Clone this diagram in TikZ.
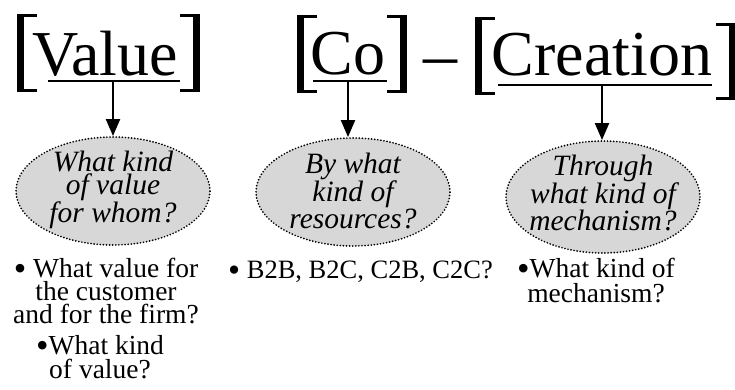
\documentclass[tikz,border=0pt]{standalone}
\usepackage{fontspec}
\setmainfont{Liberation Serif}
\usetikzlibrary{shapes.geometric,arrows.meta}
\newcommand{\bul}{\raisebox{-3.5pt}{\scalebox{1.3}{•}}}
\begin{document}
\begin{tikzpicture}[x=1pt,y=-1pt,
  title/.style={font=\fontsize{64}{64}\selectfont, inner sep=0pt, anchor=base},
  uline/.style={line width=2.4pt},
  arr/.style={line width=2.2pt, -{Triangle[width=14pt,length=17pt]}},
  bubble/.style={ellipse, draw, fill=bubblegray, line width=1.9pt,
    dash pattern=on 0pt off 3.1pt, line cap=round,
    minimum width=194pt, minimum height=108pt, inner sep=0pt},
  bubbletext/.style={inner sep=0pt, align=center,
    font=\fontsize{29.5}{22.5}\selectfont\itshape},
  bullettext/.style={inner sep=0pt, align=center, anchor=base}
]
\definecolor{bubblegray}{RGB}{215,215,215}
\useasboundingbox[fill=white] (0,0) rectangle (735,389);

% brackets
\newcommand{\lbrk}[3]{\fill (#1,#2) rectangle (#1+7,#3);
  \fill (#1,#2) rectangle (#1+20,#2+3); \fill (#1,#3-3) rectangle (#1+20,#3);}
\newcommand{\rbrk}[3]{\fill (#1-7,#2) rectangle (#1,#3);
  \fill (#1-20,#2) rectangle (#1,#2+3); \fill (#1-20,#3-3) rectangle (#1,#3);}
\lbrk{17}{14}{92}
\rbrk{200}{14}{92}
\lbrk{297}{15}{93}
\rbrk{407}{15}{93}
\lbrk{475}{17}{95}
\rbrk{736}{23}{100}

% titles
\node[title] (val) at (105,75) {Value};
\node[title] (co) at (348,74) {Co};
\node[title] (cre) at (602,75) {Creation};
\node[font=\fontsize{68}{68}\selectfont, inner sep=0pt, anchor=base] (dash) at (440,77) {–};

% underlines
\coordinate (v1) at (48,81); \coordinate (v2) at (180,81); \coordinate (va) at (113,81);
\coordinate (c1) at (313,81); \coordinate (c2) at (387,81); \coordinate (ca) at (348,81);
\coordinate (r1) at (498,85); \coordinate (r2) at (712,85); \coordinate (ra) at (602,85);
\draw[uline] (v1) -- (v2);
\draw[uline] (c1) -- (c2);
\draw[uline] (r1) -- (r2);

% bubbles
\node[bubble, label={[bubbletext, yshift=1pt]center:{What kind\\of value\\for whom?}}] (e1) at (113,191) {};
\node[bubble, label={[bubbletext, yshift=1pt]center:{By what\\kind of\\resources?}}] (e2) at (353,192) {};
\node[bubble, minimum height=112pt, label={[bubbletext, yshift=4pt]center:{Through\\what kind of\\mechanism?}}] (e3) at (603,197) {};

\draw[arr] (va) -- (va |- e1.north);
\draw[arr] (ca) -- (ca |- e2.north);
\draw[arr] (ra) -- (ra |- e3.north);

% bullet texts (base anchor = last line's baseline)
\node[bullettext, font=\fontsize{27.5}{23}\selectfont] (b1) at (106,323) {\bul{} What value for\\the customer\\and for the firm?};
\node[bullettext, font=\fontsize{27.5}{21}\selectfont] (b4) at (100,378) {\bul{}What kind\\of value?};
\node[bullettext, font=\fontsize{26.5}{24}\selectfont, anchor=base west] (b2) at (228,278) {\bul{} B2B, B2C, C2B, C2C?};
\node[bullettext, font=\fontsize{27.5}{25}\selectfont] (b3) at (596,302) {\bul{}What kind of\\mechanism?};
\end{tikzpicture}
\end{document}
